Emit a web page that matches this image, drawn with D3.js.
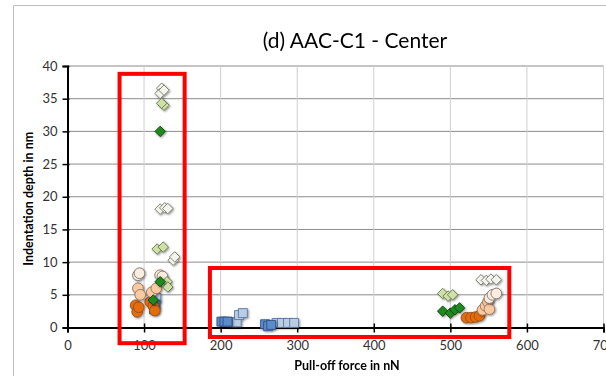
<!DOCTYPE html>
<html><head><meta charset="utf-8">
<script src="https://cdn.jsdelivr.net/npm/d3@7"></script>
<style>body{margin:0;background:#fff}svg{display:block}text{font-family:Lato,"Open Sans",sans-serif}</style>
</head><body>
<svg id="c" width="606" height="376"></svg>
<script>
const title = "(d) AAC-C1 - Center";
const xLabel = "Pull-off force in nN";
const yLabel = "Indentation depth in nm";
const xTicks = [0,100,200,300,400,500,600,700];
const yTicks = [0,5,10,15,20,25,30,35,40];

// series: [x, y]
const squaresDarkBlue = [[113,2.8],[115,3.5],[201,0.9],[205,0.9],[209,0.9],[258,0.5],[262,0.2],[266,0.4]];
const squaresLightBlue = [[116,4.5],[215,0.8],[221,0.8],[224,1.9],[229,2.2],[273,0.7],[280,0.7],[288,0.7],[296,0.7]];
const circlesOrange = [[89,3.4],[91,2.4],[93,3.1],[108,3.9],[112,3.3],[114,2.6],[521,1.5],[527,1.5],[533,1.6],[538,1.8]];
const circlesPeach = [[92,6],[95,5],[110,5.4],[116,6],[542,2.7],[546,3.3],[549,3.9],[551,2.8]];
const circlesLight = [[92,8],[94,8.3],[121,8],[124,7.8],[551,4.5],[555,5],[560,5.2]];
const diamondsDarkGreen = [[121,30],[112,4.2],[121,7],[490,2.5],[500,2.2],[506,2.7],[512,3]];
const diamondsLightGreen = [[117,12],[125,12.3],[126,34],[123,34.3],[130,7],[131,6.2],[490,5.2],[497,4.8],[503,5]];
const diamondsWhite = [[123,36.6],[121,35.8],[126,36.3],[121,18.1],[127,18.3],[131,18.2],[138,10.3],[140,10.8],[540,7.3],[547,7.2],[553,7.4],[560,7.3]];
// highlight boxes [x0, x1, y0, y1] in data units
const boxes = [[68,153,-2.4,38.8],[186,577,-1.45,9.1]];

const svg = d3.select("#c");
const x = d3.scaleLinear().domain([0,700]).range([67.5,603.5]);
const y = d3.scaleLinear().domain([0,40]).range([327.5,66]);

// outer frame
svg.append("path").attr("d","M13.5,376 V5.5 H606").attr("fill","none").attr("stroke","#bdbdbd").attr("stroke-width",1);

// gridlines
svg.append("g").selectAll("line").data(yTicks.filter(d=>d>0)).join("line")
  .attr("x1",x(0)).attr("x2",x(700)).attr("y1",d=>y(d)).attr("y2",d=>y(d))
  .attr("stroke","#8c8c8c").attr("stroke-width",1);
svg.append("g").selectAll("line").data(xTicks.filter(d=>d>0)).join("line")
  .attr("x1",d=>x(d)).attr("x2",d=>x(d)).attr("y1",y(0)).attr("y2",y(40))
  .attr("stroke","#cfcfcf").attr("stroke-width",1);

// axes
const yAxis = svg.append("g").attr("transform",`translate(${x(0)},0)`)
  .call(d3.axisLeft(y).tickValues(yTicks).tickSize(5).tickPadding(5));
const xAxis = svg.append("g").attr("transform",`translate(0,${y(0)})`)
  .call(d3.axisBottom(x).tickValues(xTicks).tickSize(5).tickPadding(8));
[yAxis,xAxis].forEach(g=>{
  g.select(".domain").attr("stroke","#000").attr("stroke-width",2);
  g.selectAll(".tick line").attr("stroke","#000").attr("stroke-width",1.5);
  g.selectAll(".tick text").attr("font-size",13).attr("fill","#333");
});
xAxis.selectAll(".tick line").attr("y1",-4);
yAxis.selectAll(".tick line").attr("x1",2);

// markers
const defs = svg.append("defs");
const f = defs.append("filter").attr("id","sh").attr("x","-50%").attr("y","-50%").attr("width","200%").attr("height","200%");
f.append("feDropShadow").attr("dx",1).attr("dy",1).attr("stdDeviation",0.8).attr("flood-color","#000").attr("flood-opacity",0.45);

function drawSeries(data, symbolType, size, fill, stroke, rot){
  const sym = d3.symbol().type(symbolType).size(size);
  svg.append("g").attr("filter","url(#sh)").selectAll("path").data(data).join("path")
    .attr("d",sym)
    .attr("transform",d=>`translate(${x(d[0])},${y(d[1])}) rotate(${rot||0})`)
    .attr("fill",fill).attr("stroke",stroke).attr("stroke-width",0.8);
}
drawSeries(squaresLightBlue, d3.symbolSquare, 80, "#b9cde5", "#4f6d95");
drawSeries(squaresDarkBlue, d3.symbolSquare, 80, "#5b8bc9", "#2b4a78");
drawSeries(circlesOrange, d3.symbolCircle, 90, "#e46c0a", "#8a4a1c");
drawSeries(circlesPeach, d3.symbolCircle, 90, "#f9c9a0", "#8a6a55");
drawSeries(circlesLight, d3.symbolCircle, 90, "#fbece0", "#6f6660");
drawSeries(diamondsWhite, d3.symbolSquare, 55, "#f4f4ee", "#707060", 45);
drawSeries(diamondsLightGreen, d3.symbolSquare, 55, "#cfe0a8", "#5f6f45", 45);
drawSeries(diamondsDarkGreen, d3.symbolSquare, 55, "#1f8a1f", "#0c3d0c", 45);

// highlight boxes
svg.append("g").selectAll("rect").data(boxes).join("rect")
  .attr("x",d=>x(d[0])).attr("y",d=>y(d[3]))
  .attr("width",d=>x(d[1])-x(d[0])).attr("height",d=>y(d[2])-y(d[3]))
  .attr("fill","none").attr("stroke","#ff0000").attr("stroke-width",4);

// texts
svg.append("text").attr("x",355).attr("y",48).attr("text-anchor","middle")
  .attr("font-size",21).attr("fill","#000").text(title);
svg.append("text").attr("x",347).attr("y",370).attr("text-anchor","middle")
  .attr("font-size",12.5).attr("font-weight","bold").attr("fill","#000").text(xLabel);
svg.append("text").attr("transform",`translate(33,${y(20)+2}) rotate(-90)`).attr("text-anchor","middle")
  .attr("font-size",12.5).attr("font-weight","bold").attr("fill","#000").text(yLabel);
</script>
</body></html>
